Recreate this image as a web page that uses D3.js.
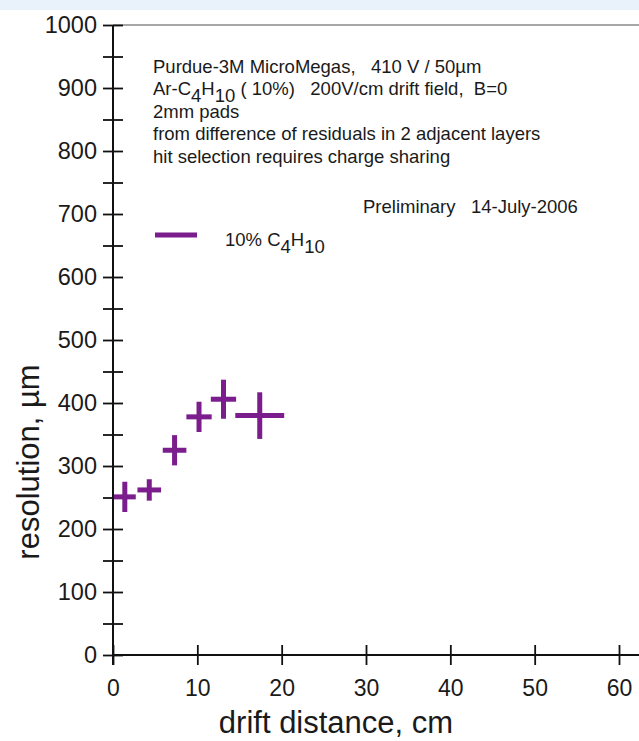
<!DOCTYPE html>
<html>
<head>
<meta charset="utf-8">
<script src="https://d3js.org/d3.v7.min.js"></script>
<style>
  body { margin: 0; background: #fff; }
  text { font-family: "Liberation Sans", Arial, sans-serif; fill: #1a1a1a; }
</style>
</head>
<body>
<div id="my_dataviz"></div>
<script>
// data
var driftCm    = [1.4, 4.3, 7.3, 10.2, 13.1, 17.4];
var resolution = [251, 262, 325, 378, 406, 380];
var driftErr   = [1.3, 1.4, 1.4, 1.5, 1.5, 2.9];
var resErr     = [24, 17, 24, 24, 31, 37];

var xTicks = [0, 10, 20, 30, 40, 50, 60];
var yTicks = d3.range(0, 1001, 50);   // labels only on the hundreds

var purple = "#7b1d8c";

var width = 639, height = 741;

var svg = d3.select("#my_dataviz")
  .append("svg")
    .attr("width", width)
    .attr("height", height);

// light blue band at top of page
svg.append("rect")
  .attr("x", 0).attr("y", 0)
  .attr("width", width).attr("height", 10)
  .attr("fill", "#e9f2fb");

// scales
var x = d3.scaleLinear().domain([0, 60]).range([113, 619]);
var y = d3.scaleLinear().domain([0, 1000]).range([655, 25]);

// top frame line
svg.append("line")
  .attr("x1", x(0)).attr("x2", width)
  .attr("y1", y(1000)).attr("y2", y(1000))
  .attr("stroke", "#8a8a8a").attr("stroke-width", 1.5);

// X axis
var xAxis = svg.append("g")
  .attr("transform", "translate(0," + y(0) + ")")
  .call(d3.axisBottom(x).tickValues(xTicks).tickSize(10).tickPadding(15).tickFormat(d3.format("d")));
xAxis.select(".domain").remove();
xAxis.selectAll(".tick line")
  .attr("y1", -10)
  .attr("stroke", "#111").attr("stroke-width", 1.8);
xAxis.selectAll(".tick text")
  .style("font-size", "23px")
  .attr("fill", "#1a1a1a");
xAxis.append("line")
  .attr("x1", x(0)).attr("x2", width)
  .attr("stroke", "#111").attr("stroke-width", 2);

// Y axis
var yAxis = svg.append("g")
  .attr("transform", "translate(" + x(0) + ",0)")
  .call(d3.axisLeft(y).tickValues(yTicks).tickSize(10).tickPadding(6)
    .tickFormat(function(d) { return d % 100 === 0 ? d : ""; }));
yAxis.select(".domain").remove();
yAxis.selectAll(".tick line")
  .attr("x1", 10)
  .attr("stroke", "#111").attr("stroke-width", 1.8);
yAxis.selectAll(".tick text")
  .style("font-size", "23.5px")
  .attr("fill", "#1a1a1a");
yAxis.append("line")
  .attr("y1", y(1000)).attr("y2", y(0) + 10)
  .attr("stroke", "#111").attr("stroke-width", 2);

// axis titles
svg.append("text")
  .attr("x", 336).attr("y", 733)
  .attr("text-anchor", "middle")
  .style("font-size", "31px")
  .text("drift distance, cm");

svg.append("text")
  .attr("transform", "translate(39,462) rotate(-90)")
  .attr("text-anchor", "middle")
  .style("font-size", "31px")
  .text("resolution, \u00b5m");

// error-bar crosses
var pts = driftCm.map(function(d, i) {
  return {x: d, y: resolution[i], ex: driftErr[i], ey: resErr[i]};
});
var marks = svg.append("g")
  .attr("stroke", purple).attr("stroke-width", 5);
marks.selectAll(".hbar")
  .data(pts).enter().append("line")
    .attr("class", "hbar")
    .attr("x1", function(d) { return x(d.x - d.ex); })
    .attr("x2", function(d) { return x(d.x + d.ex); })
    .attr("y1", function(d) { return y(d.y); })
    .attr("y2", function(d) { return y(d.y); });
marks.selectAll(".vbar")
  .data(pts).enter().append("line")
    .attr("class", "vbar")
    .attr("x1", function(d) { return x(d.x); })
    .attr("x2", function(d) { return x(d.x); })
    .attr("y1", function(d) { return y(d.y - d.ey); })
    .attr("y2", function(d) { return y(d.y + d.ey); });

// annotation text
var note = svg.append("g").style("font-size", "18.5px");
note.append("text").attr("x", 153).attr("y", 73)
  .style("white-space", "pre")
  .text("Purdue-3M MicroMegas,   410 V / 50\u00b5m");
var l2 = note.append("text").attr("x", 153).attr("y", 95).style("white-space", "pre");
l2.append("tspan").text("Ar-C");
l2.append("tspan").attr("dy", 6.5).text("4");
l2.append("tspan").attr("dy", -6.5).text("H");
l2.append("tspan").attr("dy", 6.5).text("10");
l2.append("tspan").attr("dy", -6.5).text(" ( 10%)   200V/cm drift field,  B=0");
note.append("text").attr("x", 153).attr("y", 118).text("2mm pads");
note.append("text").attr("x", 153).attr("y", 140).text("from difference of residuals in 2 adjacent layers");
note.append("text").attr("x", 153).attr("y", 163).text("hit selection requires charge sharing");
note.append("text").attr("x", 363).attr("y", 213)
  .style("white-space", "pre")
  .text("Preliminary   14-July-2006");

// legend
svg.append("line")
  .attr("x1", 155).attr("x2", 197)
  .attr("y1", 235).attr("y2", 235)
  .attr("stroke", purple).attr("stroke-width", 5);
var lg = svg.append("text").attr("x", 225).attr("y", 246).style("font-size", "18.5px");
lg.append("tspan").text("10% C");
lg.append("tspan").attr("dy", 6.5).text("4");
lg.append("tspan").attr("dy", -6.5).text("H");
lg.append("tspan").attr("dy", 6.5).text("10");
</script>
</body>
</html>
